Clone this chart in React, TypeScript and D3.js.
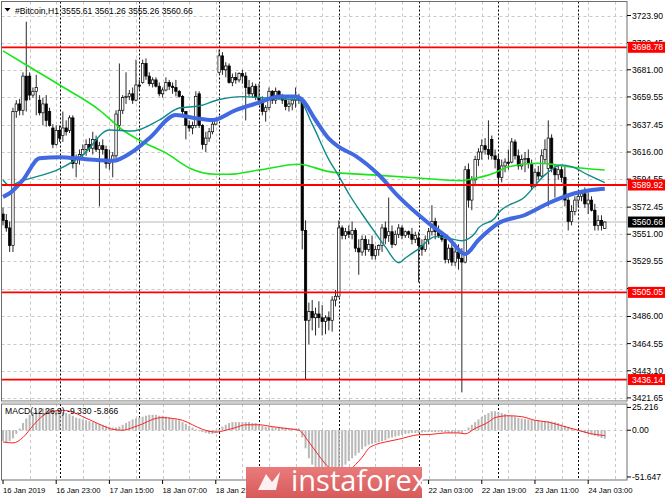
import React from "react";
import * as d3 from "d3";

const W = 665;
const H = 499;

// ---- OHLC (H1 bars, 16 Jan 2019 -> 24 Jan 2019) ----
const opens = [3567,3562,3556,3542,3648,3654,3649,3676,3676,3661,3664,3657,3647,3654,3648,3635,3622,3633,3629,3635,
3633,3643,3607,3610,3614,3618,3622,3619,3626,3618,3621,3618,3607,3610,3613,3637,3649,3659,3660,3662,
3657,3669,3671,3686,3676,3670,3673,3668,3662,3665,3671,3668,3667,3664,3660,3648,3637,3635,3637,3662,
3637,3622,3627,3632,3638,3679,3692,3681,3684,3671,3675,3673,3678,3676,3667,3662,3668,3659,3657,3648,
3651,3664,3657,3664,3660,3657,3652,3654,3657,3659,3657,3554,3483,3490,3485,3488,3485,3482,3485,3483,
3499,3502,3556,3550,3553,3551,3554,3540,3537,3547,3539,3543,3534,3539,3542,3556,3550,3553,3543,3551,
3556,3550,3553,3551,3547,3548,3542,3539,3547,3553,3561,3553,3550,3547,3531,3540,3529,3537,3532,3529,
3602,3578,3594,3610,3616,3621,3618,3626,3613,3610,3596,3605,3608,3608,3624,3613,3605,3610,3611,3607,
3589,3600,3597,3610,3603,3627,3603,3598,3602,3596,3578,3561,3569,3578,3581,3583,3575,3578,3570,3558,
3562,3555.61];
const highs = [3572,3567,3561,3651,3657,3658,3679,3719,3679,3667,3677,3661,3659,3661,3651,3638,3637,3637,3648,3641,
3645,3645,3614,3618,3622,3626,3627,3632,3629,3624,3626,3621,3618,3616,3649,3686,3661,3679,3665,3667,
3689,3673,3689,3690,3679,3675,3675,3671,3667,3675,3673,3671,3673,3665,3661,3648,3641,3640,3664,3664,
3638,3632,3635,3640,3643,3697,3695,3687,3686,3678,3679,3679,3681,3679,3673,3671,3670,3670,3660,3653,
3667,3665,3667,3665,3662,3659,3657,3660,3667,3662,3659,3562,3497,3499,3493,3498,3495,3487,3490,3502,
3507,3562,3558,3556,3558,3561,3556,3547,3550,3550,3547,3550,3542,3543,3559,3561,3580,3558,3554,3559,
3558,3554,3554,3556,3553,3553,3547,3550,3556,3574,3564,3558,3553,3550,3543,3547,3540,3543,3540,3605,
3607,3597,3613,3619,3626,3627,3641,3629,3618,3614,3610,3611,3618,3627,3626,3618,3614,3616,3618,3610,
3603,3605,3618,3626,3641,3630,3606,3606,3605,3605,3582,3574,3581,3584,3586,3588,3584,3581,3575,3566,
3566,3561.26];
const lows = [3558,3553,3537,3537,3643,3645,3645,3648,3657,3659,3645,3645,3637,3636,3636,3619,3621,3624,3624,3629,
3631,3603,3596,3606,3610,3613,3616,3614,3616,3573,3614,3603,3602,3596,3611,3633,3646,3654,3657,3654,
3656,3665,3670,3673,3668,3667,3667,3660,3659,3664,3665,3662,3660,3659,3646,3626,3632,3630,3635,3635,
3618,3616,3624,3630,3637,3678,3677,3675,3670,3668,3670,3671,3670,3641,3660,3659,3657,3653,3645,3640,
3649,3654,3654,3657,3654,3649,3648,3649,3651,3654,3539,3436,3464,3475,3471,3477,3471,3472,3475,3474,
3494,3501,3547,3547,3548,3547,3537,3519,3534,3534,3537,3531,3531,3534,3537,3543,3545,3540,3542,3548,
3547,3548,3548,3543,3544,3513,3534,3537,3543,3550,3547,3548,3545,3528,3528,3526,3526,3523,3426,3528,
3572,3570,3589,3605,3610,3614,3610,3610,3603,3590,3592,3600,3602,3607,3610,3602,3602,3600,3603,3586,
3588,3594,3596,3607,3573,3600,3580,3594,3592,3573,3554,3558,3566,3573,3577,3572,3567,3569,3554,3554,
3554,3555.26];
const closes = [3562,3556,3542,3648,3654,3649,3676,3657,3661,3664,3667,3647,3654,3641,3637,3622,3633,3627,3635,3632,
3643,3607,3610,3614,3618,3622,3619,3626,3618,3621,3618,3607,3610,3613,3646,3649,3659,3660,3662,3657,
3669,3668,3686,3676,3670,3673,3668,3662,3665,3671,3668,3667,3664,3660,3648,3637,3635,3637,3660,3637,
3622,3627,3632,3638,3641,3692,3681,3684,3671,3675,3673,3678,3676,3667,3662,3668,3659,3657,3648,3651,
3664,3657,3664,3660,3657,3652,3654,3657,3659,3657,3554,3483,3490,3485,3488,3485,3482,3485,3483,3499,
3502,3556,3550,3553,3551,3554,3540,3537,3547,3539,3543,3534,3539,3542,3556,3548,3553,3543,3551,3556,
3550,3553,3551,3547,3550,3542,3539,3547,3553,3561,3553,3550,3547,3531,3540,3529,3537,3532,3529,3602,
3578,3594,3610,3616,3621,3618,3614,3613,3610,3596,3605,3608,3607,3624,3613,3605,3610,3611,3607,3589,
3600,3597,3613,3618,3627,3603,3598,3602,3596,3578,3561,3569,3578,3581,3583,3575,3578,3570,3558,3562,
3558,3560.66];

// ---- MACD(12,26,9): main values (histogram) per bar, signal read at sample bars ----
const macdMain = [-12,-13,-12,-9,-4,2,8,13,17,20,22,23,24,24,24,23,22,21,20,19,
18,16,14,13,12,11,10,9,8,7,6,5,4,3,3,4,6,8,10,12,
13,14,15,16,17,17,17,16,16,15,14,13,12,11,9,7,5,3,1,-1,
-2,-3,-4,-4,-3,1,4,6,8,9,9,9,9,9,9,8,8,6,5,4,
4,4,3,3,3,3,2,2,2,2,-8,-20,-31,-38,-43,-47,-49,-51,-51,-50,
-48,-46,-42,-38,-34,-31,-28,-25,-21,-18,-16,-15,-14,-13,-12,-11,-9,-8,-7,-6,
-5,-4,-3.5,-3,-3,-3,-2.5,-2,-2,-2,-2,-2,-2,-2.5,-3,-3,-3,-3,-3,0,
3,6,9,12,15,17,19,21,21,20,19,18,17,16,15,13.5,13,12.5,12,11.5,
11,10.5,10,10,10,9.5,9,8,6.5,5,3.5,2,0.5,-1,-2,-3,-4,-5,-6,-7,
-8.5,-9.33];
const signalBars = [0,3,6,9,12,15,18,21,24,27,30,33,36,39,42,45,48,51,54,57,60,64,67,70,73,77,81,85,89,92,95,98,101,104,106,108,110,112,115,119,125,129,133,137,139,142,146,148,152,156,160,164,168,173,177,181];
const signalVals = [-13,-14,-8,5,16,21,22,20,15,10,5,1,0,3,7,12,14,13,11,6,1,-2,0,3,6,6,4,2,0,-13,-28,-41,-46,-44,-38,-30,-20,-16,-13,-10,-5,-4.5,-3,-3,-4,2,9,14,16,15,11,9,5,0,-4,-5.866];

// ---- Moving averages, read at sample bars ----
const greenBars = [0,7,17,29,36,42,49,56,64,68,77,89,98,111,125,138,141,148,152,161,164,170,181];
const greenVals = [3695.9,3684.8,3669.0,3649.2,3633.4,3623.9,3615.3,3603.4,3598.4,3598.4,3601.8,3606.3,3600.5,3597.9,3595.5,3593.4,3594.7,3599.7,3604.4,3607.1,3606.6,3604.4,3601.8];
const tealBars = [0,2,5,17,24,32,39,47,53,59,65,72,80,89,93,98,101,104,108,112,115,119,121,125,130,134,138,142,143,148,149,157,163,168,171,176,181];
const tealVals = [3593.9,3589.4,3592.6,3602.6,3613.7,3633.4,3632.6,3641.3,3650.8,3652.4,3657.5,3659.8,3658.5,3657.2,3638.0,3610.0,3597.0,3583.0,3567.0,3552.0,3541.0,3528.5,3532.2,3539.4,3549.1,3547.8,3545.9,3552.0,3556.0,3563.9,3567.8,3580.7,3597.9,3605.8,3604.4,3597.9,3591.8];
const blueBars = [0,2,6,11,17,25,33,39,44,52,58,63,70,77,83,88,90,94,98,101,106,113,119,128,134,139,143,149,157,164,172,177,181];
const blueVals = [3580.5,3583.4,3593.9,3611.0,3611.9,3610.3,3609.0,3616.3,3626.9,3645.3,3642.7,3641.3,3649.2,3655.0,3659.8,3659.8,3657.2,3641.3,3626.5,3620.0,3613.0,3598.0,3580.7,3559.7,3547.8,3535.4,3546.5,3559.7,3566.2,3575.5,3583.4,3586.0,3587.0];

// ---- Axes / levels ----
const priceTicks = [3723.90,3702.45,3681.00,3659.55,3637.45,3616.00,3594.55,3572.45,3551.00,3529.55,3508.10,3486.00,3464.55,3443.10,3421.65];
const hiddenPriceLabels = [3508.10];
const levelLines = [3698.78,3589.92,3505.05,3436.14];
const lastPrice = 3560.66;
const macdTicks = [25.216,0.0,-51.647];
const timeLabels = ["16 Jan 2019","16 Jan 23:00","17 Jan 15:00","18 Jan 07:00","18 Jan 23:00","22 Jan 03:00","22 Jan 19:00","23 Jan 11:00","24 Jan 03:00"];
const timeLabelBars = [0,16,32,48,64,128,144,160,176];
const daySeparatorBars = [17,41,65,77,101,125,149,173];
const gridBars = [8,16,24,32,40,48,56,64,72,80,88,96,104,112,120,128,136,144,152,160,168,176,184];
const titleText = "#Bitcoin,H1  3555.61 3561.26 3555.26 3560.66";
const macdTitle = "MACD(12,26,9) -9.330 -5.866";

const FONT = "'Liberation Sans', Arial, sans-serif";
const L = 1.5, R = 627, T = 1.5, PB = 401, MT = 404, MB = 480;

export default function App() {
  const x = d3.scaleLinear().domain([0, 181]).range([3, 604.8]);
  const y = d3.scaleLinear().domain([3421.65, 3723.9]).range([397.9, 15.5]);
  const ym = d3.scaleLinear().domain([-55, 29]).range([480, 404]);
  const mk = (bars: number[], vals: number[], sc: any) =>
    d3.line<number>().x((_, i) => x(bars[i])).y((v) => sc(v)).curve(d3.curveMonotoneX)(vals) || "";
  const bw = 2.4;

  return (
    <svg width={W} height={H} style={{ position: "absolute", left: 0, top: 0, background: "#fff" }} fontFamily={FONT}>
      <rect x={0} y={0} width={W} height={H} fill="#fff" />
      <defs>
        <clipPath id="pc"><rect x={L} y={T} width={R - L} height={PB - T} /></clipPath>
        <clipPath id="mc"><rect x={L} y={MT} width={R - L} height={MB - MT} /></clipPath>
        <linearGradient id="lg" x1="0" y1="0" x2="0" y2="1">
          <stop offset="0" stopColor="#ea7b7b" />
          <stop offset="1" stopColor="#d85a5a" />
        </linearGradient>
      </defs>

      {/* grid */}
      <g stroke="#c8c8c8" strokeWidth={1} strokeDasharray="3,3">
        {priceTicks.map((p, i) => (
          <line key={"h" + i} x1={L} x2={R} y1={Math.round(y(p)) + 0.5} y2={Math.round(y(p)) + 0.5} />
        ))}
        {gridBars.filter((b) => x(b) < R).map((b, i) => (
          <g key={"v" + i}>
            <line x1={Math.round(x(b)) + 0.5} x2={Math.round(x(b)) + 0.5} y1={T} y2={PB} />
            <line x1={Math.round(x(b)) + 0.5} x2={Math.round(x(b)) + 0.5} y1={MT} y2={MB} />
          </g>
        ))}
        <line x1={L} x2={R} y1={Math.round(ym(0)) + 0.5} y2={Math.round(ym(0)) + 0.5} />
      </g>
      <g stroke="#000" strokeWidth={1} strokeDasharray="2,2">
        {daySeparatorBars.map((b, i) => (
          <g key={"d" + i}>
            <line x1={Math.round(x(b)) + 0.5} x2={Math.round(x(b)) + 0.5} y1={T} y2={PB} />
            <line x1={Math.round(x(b)) + 0.5} x2={Math.round(x(b)) + 0.5} y1={MT} y2={MB} />
          </g>
        ))}
      </g>

      {/* last price line */}
      <line x1={L} x2={R} y1={y(lastPrice)} y2={y(lastPrice)} stroke="#b8b8b8" strokeWidth={1} />

      {/* candles */}
      <g clipPath="url(#pc)">
        {opens.map((o, i) => {
          const c = closes[i];
          const up = c >= o;
          const top = y(Math.max(o, c));
          const bot = y(Math.min(o, c));
          return (
            <g key={"c" + i}>
              <line x1={x(i)} x2={x(i)} y1={y(highs[i])} y2={y(lows[i])} stroke="#111" strokeWidth={0.9} />
              <rect x={x(i) - bw / 2} y={top} width={bw} height={Math.max(1, bot - top)}
                fill={up ? "#fff" : "#000"} stroke="#000" strokeWidth={0.7} />
            </g>
          );
        })}
        {/* moving averages */}
        <path d={mk(greenBars, greenVals, y)} fill="none" stroke="#19e619" strokeWidth={1.6} />
        <path d={mk(tealBars, tealVals, y)} fill="none" stroke="#0f8a8a" strokeWidth={1.4} />
        <path d={mk(blueBars, blueVals, y)} fill="none" stroke="#4169e1" strokeWidth={4} strokeLinejoin="round" />
        {/* horizontal levels */}
        {levelLines.map((p, i) => (
          <line key={"l" + i} x1={L} x2={R} y1={y(p)} y2={y(p)} stroke="#ff0000" strokeWidth={1.8} />
        ))}
      </g>

      {/* MACD */}
      <g clipPath="url(#mc)">
        {macdMain.map((v, i) => (
          <rect key={"m" + i} x={x(i) - 1} width={2} y={Math.min(ym(v), ym(0))}
            height={Math.max(0.5, Math.abs(ym(v) - ym(0)))} fill="#b9b9b9" />
        ))}
        <path d={mk(signalBars, signalVals, ym)} fill="none" stroke="#ff2020" strokeWidth={1} />
      </g>

      {/* frames */}
      <g fill="none" stroke="#6e6e6e" strokeWidth={1}>
        <rect x={L} y={T} width={R - L} height={PB - T} />
        <rect x={L} y={MT} width={R - L} height={MB - MT} />
      </g>
      <rect x={L} y={PB + 0.5} width={R - L} height={MT - PB - 1} fill="#d4d4d4" />

      {/* title */}
      <path d="M4.5,8 L10.5,8 L7.5,11.5 Z" fill="#000" />
      <text x={15} y={13.5} fontSize={8.6} fill="#000">{titleText}</text>
      <text x={5} y={414} fontSize={8.6} fill="#000">{macdTitle}</text>

      {/* price axis */}
      <g fontSize={8.6} fill="#000">
        {priceTicks.map((p, i) => (
          <g key={"pt" + i}>
            <line x1={R} x2={R + 4} y1={y(p)} y2={y(p)} stroke="#000" />
            {hiddenPriceLabels.includes(p) ? null : <text x={632} y={y(p) + 3}>{p.toFixed(2)}</text>}
          </g>
        ))}
      </g>
      {levelLines.map((p, i) => (
        <g key={"lv" + i}>
          <rect x={628} y={y(p) - 5.5} width={37} height={11} fill="#ff0000" />
          <text x={632} y={y(p) + 3} fontSize={8.6} fill="#fff">{p.toFixed(2)}</text>
        </g>
      ))}
      <rect x={628} y={y(lastPrice) - 5.5} width={37} height={11} fill="#000" />
      <text x={632} y={y(lastPrice) + 3} fontSize={8.6} fill="#fff">{lastPrice.toFixed(2)}</text>

      {/* macd axis */}
      <g fontSize={8.6} fill="#000">
        {macdTicks.map((v, i) => (
          <g key={"mt" + i}>
            <line x1={R} x2={R + 4} y1={ym(v)} y2={ym(v)} stroke="#000" />
            <text x={632} y={ym(v) + 3}>{v === 0 ? "0.00" : v.toFixed(3)}</text>
          </g>
        ))}
      </g>

      {/* time axis */}
      <g fontSize={7.7} fill="#000">
        {timeLabels.map((t, i) => (
          <g key={"t" + i}>
            <line x1={x(timeLabelBars[i])} x2={x(timeLabelBars[i])} y1={MB} y2={MB + 4} stroke="#000" />
            <text x={x(timeLabelBars[i])} y={493}>{t}</text>
          </g>
        ))}
      </g>

      {/* logo */}
      <g>
        <rect x={246} y={467} width={176} height={31} fill="url(#lg)" />
        <path d="M258,490 L266,474 L272,482 L280,472 L276,490 Z" fill="#fff" opacity={0.9} />
        <text x={291} y={491} fontSize={29} fill="#fff" fontFamily="'Open Sans', 'Noto Sans', sans-serif">instaforex</text>
      </g>
    </svg>
  );
}
